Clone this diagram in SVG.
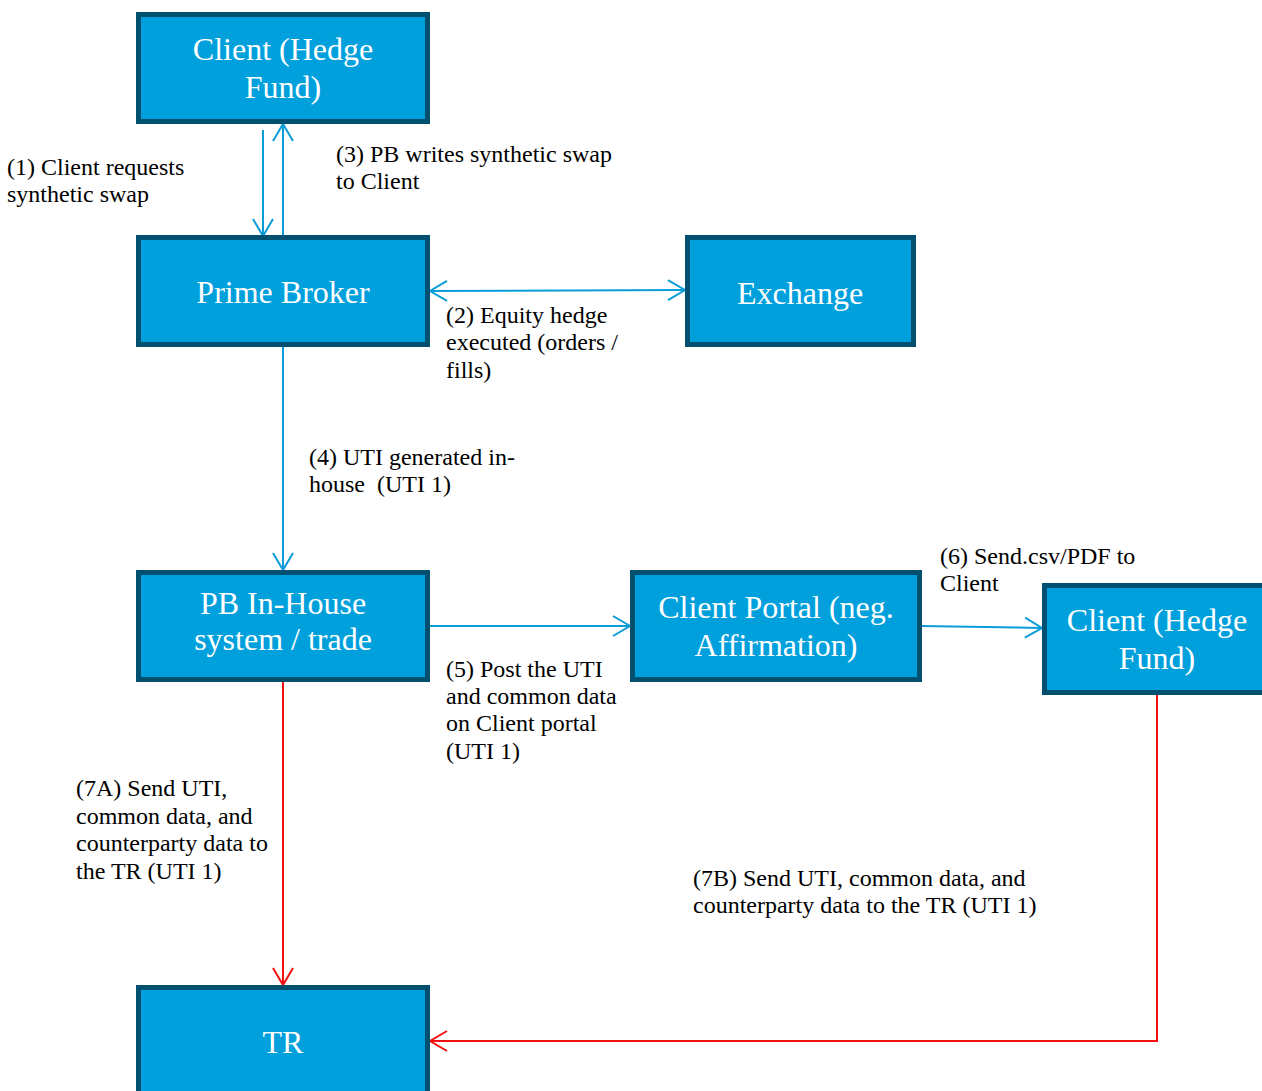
<svg xmlns="http://www.w3.org/2000/svg" width="1262" height="1091" viewBox="0 0 1262 1091">
<defs>
<style>
.node rect{fill:#00A0DD;stroke:#02506F;stroke-width:5}
.node text{fill:#fff;font-family:"Liberation Serif","Times New Roman",serif;font-size:32px;text-anchor:middle}
.lbl{fill:#000;font-family:"Liberation Serif","Times New Roman",serif;font-size:24px;white-space:pre}
.blue{stroke:#0B9CD8;stroke-width:2;fill:none}
.red{stroke:#F01010;stroke-width:2;fill:none}
</style>
<marker id="ab" markerUnits="userSpaceOnUse" viewBox="-20 -12 22 24" markerWidth="22" markerHeight="24" refX="0" refY="0" orient="auto-start-reverse">
<path d="M-17,-10 L0,0 L-17,10" fill="none" stroke="#0B9CD8" stroke-width="2"/>
</marker>
<marker id="ar" markerUnits="userSpaceOnUse" viewBox="-20 -12 22 24" markerWidth="22" markerHeight="24" refX="0" refY="0" orient="auto">
<path d="M-17,-10 L0,0 L-17,10" fill="none" stroke="#F01010" stroke-width="2"/>
</marker>
</defs>
<rect width="1262" height="1091" fill="#fff"/>
<g id="connectors">
<line class="blue" x1="263" y1="130" x2="263" y2="236" marker-end="url(#ab)"/>
<line class="blue" x1="283" y1="236" x2="283" y2="124" marker-end="url(#ab)"/>
<line class="blue" x1="430" y1="291" x2="685" y2="290" marker-start="url(#ab)" marker-end="url(#ab)"/>
<line class="blue" x1="283" y1="347" x2="283" y2="570" marker-end="url(#ab)"/>
<line class="blue" x1="430" y1="626" x2="630" y2="626" marker-end="url(#ab)"/>
<line class="blue" x1="922" y1="626" x2="1042" y2="628" marker-end="url(#ab)"/>
<line class="red" x1="283" y1="682" x2="283" y2="985" marker-end="url(#ar)"/>
<polyline class="red" points="1157,695 1157,1041 430,1041" marker-end="url(#ar)"/>
</g>
<g id="client-top" class="node"><rect x="138.5" y="14.5" width="289" height="107"/><text x="283" y="60">Client (Hedge</text><text x="283" y="98">Fund)</text></g>
<g id="prime-broker" class="node"><rect x="138.5" y="237.5" width="289" height="107"/><text x="283" y="303">Prime Broker</text></g>
<g id="exchange" class="node"><rect x="687.5" y="237.5" width="226" height="107"/><text x="800" y="304">Exchange</text></g>
<g id="pb-inhouse" class="node"><rect x="138.5" y="572.5" width="289" height="107"/><text x="283" y="614">PB In-House</text><text x="283" y="650">system / trade</text></g>
<g id="client-portal" class="node"><rect x="632.5" y="572.5" width="287" height="107"/><text x="776" y="618">Client Portal (neg.</text><text x="776" y="656">Affirmation)</text></g>
<g id="client-right" class="node"><rect x="1044.5" y="585.5" width="230" height="107"/><text x="1157" y="631">Client (Hedge</text><text x="1157" y="669">Fund)</text></g>
<g id="tr" class="node"><rect x="138.5" y="987.5" width="289" height="120"/><text x="283" y="1053">TR</text></g>
<g id="labels">
<text class="lbl" x="7" y="175">(1) Client requests</text>
<text class="lbl" x="7" y="202">synthetic swap</text>
<text class="lbl" x="336" y="162">(3) PB writes synthetic swap</text>
<text class="lbl" x="336" y="189">to Client</text>
<text class="lbl" x="446" y="323">(2) Equity hedge</text>
<text class="lbl" x="446" y="350">executed (orders /</text>
<text class="lbl" x="446" y="378">fills)</text>
<text class="lbl" x="309" y="465">(4) UTI generated in-</text>
<text class="lbl" x="309" y="492" xml:space="preserve">house  (UTI 1)</text>
<text class="lbl" x="940" y="564">(6) Send.csv/PDF to</text>
<text class="lbl" x="940" y="591">Client</text>
<text class="lbl" x="446" y="677">(5) Post the UTI</text>
<text class="lbl" x="446" y="704">and common data</text>
<text class="lbl" x="446" y="731">on Client portal</text>
<text class="lbl" x="446" y="759">(UTI 1)</text>
<text class="lbl" x="76" y="796">(7A) Send UTI,</text>
<text class="lbl" x="76" y="824">common data, and</text>
<text class="lbl" x="76" y="851">counterparty data to</text>
<text class="lbl" x="76" y="879">the TR (UTI 1)</text>
<text class="lbl" x="693" y="886">(7B) Send UTI, common data, and</text>
<text class="lbl" x="693" y="913">counterparty data to the TR (UTI 1)</text>
</g>
</svg>
